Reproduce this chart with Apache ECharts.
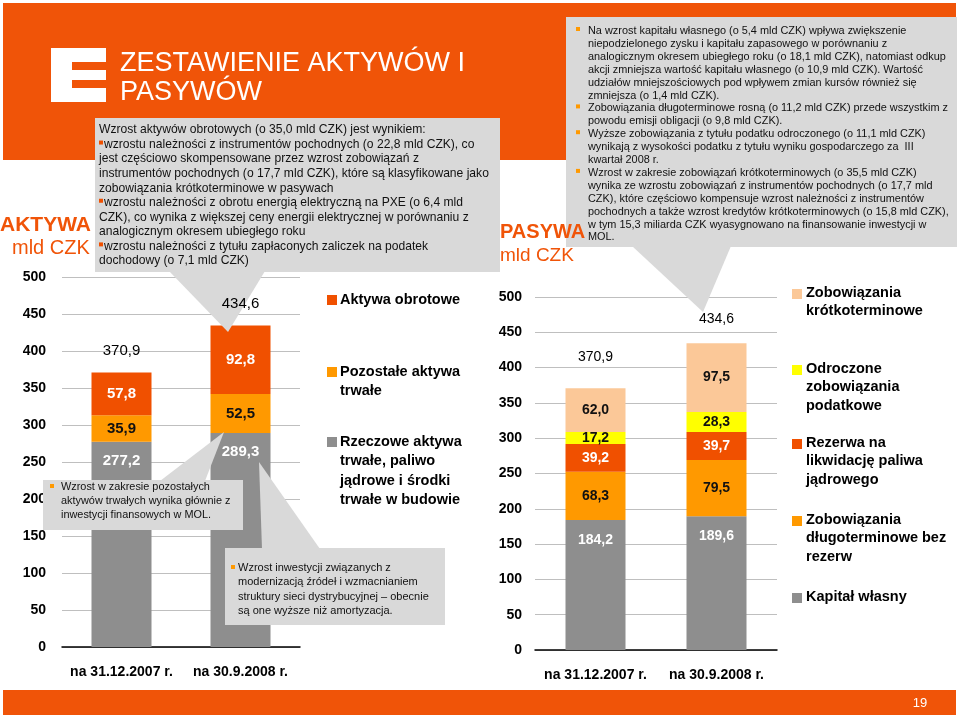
<!DOCTYPE html>
<html>
<head>
<meta charset="utf-8">
<script src="https://cdn.jsdelivr.net/npm/echarts@6/dist/echarts.min.js"></script>
<style>
html,body{margin:0;padding:0;background:#fff;}
#c{width:959px;height:721px;}
</style>
</head>
<body>
<div id="c"></div>
<script>
// ---------- DATA ----------
const categories = ['na 31.12.2007 r.', 'na 30.9.2008 r.'];
const yMin = 0, yMax = 500, yStep = 50;

// Aktywa (bottom -> top)
const assetNames = [
  'Rzeczowe aktywa\ntrwałe, paliwo\njądrowe i środki\ntrwałe w budowie',
  'Pozostałe aktywa\ntrwałe',
  'Aktywa obrotowe'
];
const fixedAssets = [277.2, 289.3];
const otherFixedAssets = [35.9, 52.5];
const currentAssets = [57.8, 92.8];
const assetTotals = [370.9, 434.6];

// Pasywa (bottom -> top)
const liabNames = [
  'Kapitał własny',
  'Zobowiązania\ndługoterminowe bez\nrezerw',
  'Rezerwa na\nlikwidację paliwa\njądrowego',
  'Odroczone\nzobowiązania\npodatkowe',
  'Zobowiązania\nkrótkoterminowe'
];
const equity = [184.2, 189.6];
const longTermLiab = [68.3, 79.5];
const nuclearReserve = [39.2, 39.7];
const deferredTax = [17.2, 28.3];
const shortTermLiab = [62.0, 97.5];
const liabTotals = [370.9, 434.6];

const titleLines = ['ZESTAWIENIE AKTYWÓW I', 'PASYWÓW'];
const boxLeftLines = [
  [0, 'Wzrost aktywów obrotowych (o 35,0 mld CZK) jest wynikiem:'],
  [1, 'wzrostu należności z instrumentów pochodnych (o 22,8 mld CZK), co'],
  [0, 'jest częściowo skompensowane przez wzrost zobowiązań z'],
  [0, 'instrumentów pochodnych (o 17,7 mld CZK), które są klasyfikowane jako'],
  [0, 'zobowiązania krótkoterminowe w pasywach'],
  [1, 'wzrostu należności z obrotu energią elektryczną na PXE (o 6,4 mld'],
  [0, 'CZK), co wynika z większej ceny energii elektrycznej w porównaniu z'],
  [0, 'analogicznym okresem ubiegłego roku'],
  [1, 'wzrostu należności z tytułu zapłaconych zaliczek na podatek'],
  [0, 'dochodowy (o 7,1 mld CZK)']
];
const boxRightLines = [
  [1, 'Na wzrost kapitału własnego (o 5,4 mld CZK) wpływa zwiększenie'],
  [0, 'niepodzielonego zysku i kapitału zapasowego w porównaniu z'],
  [0, 'analogicznym okresem ubiegłego roku (o 18,1 mld CZK), natomiast odkup'],
  [0, 'akcji zmniejsza wartość kapitału własnego (o 10,9 mld CZK). Wartość'],
  [0, 'udziałów mniejszościowych pod wpływem zmian kursów również się'],
  [0, 'zmniejsza (o 1,4 mld CZK).'],
  [1, 'Zobowiązania długoterminowe rosną (o 11,2 mld CZK) przede wszystkim z'],
  [0, 'powodu emisji obligacji (o 9,8 mld CZK).'],
  [1, 'Wyższe zobowiązania z tytułu podatku odroczonego (o 11,1 mld CZK)'],
  [0, 'wynikają z wysokości podatku z tytułu wyniku gospodarczego za  III'],
  [0, 'kwartał 2008 r.'],
  [1, 'Wzrost w zakresie zobowiązań krótkoterminowych (o 35,5 mld CZK)'],
  [0, 'wynika ze wzrostu zobowiązań z instrumentów pochodnych (o 17,7 mld'],
  [0, 'CZK), które częściowo kompensuje wzrost należności z instrumentów'],
  [0, 'pochodnych a także wzrost kredytów krótkoterminowych (o 15,8 mld CZK),'],
  [0, 'w tym 15,3 miliarda CZK wyasygnowano na finansowanie inwestycji w'],
  [0, 'MOL.']
];
const noteFixedLines = [
  'Wzrost w zakresie pozostałych',
  'aktywów trwałych wynika głównie z',
  'inwestycji finansowych w MOL.'
];
const noteInvestLines = [
  'Wzrost inwestycji związanych z',
  'modernizacją źródeł i wzmacnianiem',
  'struktury sieci dystrybucyjnej – obecnie',
  'są one wyższe niż amortyzacja.'
];
const pageNumber = '19';

// ---------- STYLE ----------
const FF = '"Liberation Sans", Arial, Helvetica, sans-serif';
const ORANGE = '#F05408';
const C_RED = '#F05000', C_AMBER = '#FF9900', C_GRAY = '#8E8E8E', C_YEL = '#FFFF00', C_PEACH = '#FBC898';
const BOX = '#D9D9D9';
const assetColors = [C_GRAY, C_AMBER, C_RED];
const assetLabelColors = ['#fff', '#111', '#fff'];
const liabColors = [C_GRAY, C_AMBER, C_RED, C_YEL, C_PEACH];
const liabLabelColors = ['#fff', '#111', '#fff', '#111', '#111'];

const fmt = v => Number(v).toFixed(1).replace('.', ',');

const chart = echarts.init(document.getElementById('c'));

function txt(str, x, y, font, fill, z, align) {
  return { type: 'text', x: x, y: y, z: z || 20, silent: true,
    style: { text: str, font: font, fill: fill || '#000', align: align || 'left', verticalAlign: 'middle' } };
}
function rect(x, y, w, h, fill, z) {
  return { type: 'rect', z: z || 10, silent: true, shape: { x: x, y: y, width: w, height: h }, style: { fill: fill } };
}
function poly(points, fill, z) {
  return { type: 'polygon', z: z || 10, silent: true, shape: { points: points }, style: { fill: fill } };
}

const g = [];
// header band and footer strip
g.push(rect(3, 3, 953, 157, ORANGE, 1));
g.push(rect(3, 690, 953, 25, ORANGE, 1));
g.push(txt(pageNumber, 920, 703, '13px ' + FF, '#fff', 5, 'center'));
// logo
g.push(rect(51, 48, 55, 54, '#fff', 2));
g.push(rect(72, 62, 34, 8, ORANGE, 3));
g.push(rect(72, 80, 34, 8, ORANGE, 3));
// title
g.push(txt(titleLines[0], 120, 64, '27px ' + FF, '#fff', 5));
g.push(txt(titleLines[1], 120, 93, '27px ' + FF, '#fff', 5));
// section headings
g.push(txt('AKTYWA', 0, 225, 'bold 21px ' + FF, ORANGE, 40));
g.push(txt('mld CZK', 12, 248, '20px ' + FF, ORANGE, 40));
g.push(txt('PASYWA', 500, 232, 'bold 20px ' + FF, ORANGE, 40));
g.push(txt('mld CZK', 500, 256, '19px ' + FF, ORANGE, 40));

// top-left box with pointer
g.push(rect(95, 118, 405, 154, BOX, 30));
g.push(poly([[169, 271], [265, 271], [228, 332]], BOX, 30));
boxLeftLines.forEach(function (l, i) {
  const y = 130 + i * 14.55;
  if (l[0]) {
    g.push(rect(99, y - 4, 4, 4, C_RED, 31));
    g.push(txt(l[1], 104, y, '12.1px ' + FF, '#111', 31));
  } else {
    g.push(txt(l[1], 99, y, '12.1px ' + FF, '#111', 31));
  }
});

// top-right box with pointer
g.push(rect(566, 17, 391, 230, BOX, 30));
g.push(poly([[632, 246], [731, 246], [703, 312]], BOX, 30));
boxRightLines.forEach(function (l, i) {
  const y = 31 + i * 12.9;
  if (l[0]) g.push(rect(576, y - 4, 4, 4, C_AMBER, 31));
  g.push(txt(l[1], 588, y, '10.9px ' + FF, '#111', 31));
});

// lower-left note
g.push(rect(43, 480, 200, 50, BOX, 30));
g.push(poly([[160, 481], [205, 481], [224, 432]], BOX, 30));
g.push(rect(50, 484, 4, 4, C_AMBER, 31));
noteFixedLines.forEach(function (s, i) {
  g.push(txt(s, 61, 487 + i * 14.2, '10.9px ' + FF, '#111', 31));
});

// lower-right note
g.push(rect(225, 548, 220, 77, BOX, 30));
g.push(poly([[259, 462], [262, 549], [320, 549]], BOX, 30));
g.push(rect(231, 565, 4, 4, C_AMBER, 31));
noteInvestLines.forEach(function (s, i) {
  g.push(txt(s, 238, 568 + i * 14.4, '11px ' + FF, '#111', 31));
});

// legends (built from series names and colors)
const leftLegendTop = [300, 372, 442];
[2, 1, 0].forEach(function (si, k) {
  const y0 = leftLegendTop[k];
  g.push(rect(327, y0 - 5, 10, 10, assetColors[si], 5));
  assetNames[si].split('\n').forEach(function (s, j) {
    g.push(txt(s, 340, y0 + j * 19.3, 'bold 14.5px ' + FF, '#000', 5));
  });
});
const rightLegendTop = [293, 369, 443, 520, 597];
[4, 3, 2, 1, 0].forEach(function (si, k) {
  const y0 = rightLegendTop[k];
  g.push(rect(792, y0 - 4, 10, 10, liabColors[si], 5));
  liabNames[si].split('\n').forEach(function (s, j) {
    g.push(txt(s, 806, y0 + j * 18.3, 'bold 14.5px ' + FF, '#000', 5));
  });
});

// ---------- AXES ----------
function xAx(gi) {
  return { type: 'category', gridIndex: gi, data: categories,
    axisTick: { show: false },
    axisLine: { lineStyle: { color: '#000', width: 1.5 } },
    axisLabel: { interval: 0, fontFamily: FF, fontWeight: 'bold', fontSize: 14, color: '#000', margin: 18 } };
}
function yAx(gi, margin) {
  return { type: 'value', gridIndex: gi, min: yMin, max: yMax, interval: yStep,
    axisLine: { show: false }, axisTick: { show: false },
    axisLabel: { fontFamily: FF, fontWeight: 'bold', fontSize: 14, color: '#000', margin: margin },
    splitLine: { lineStyle: { color: '#BFBFBF', width: 1 } } };
}

function barSeries(name, data, gi, stack, color, labelColor, fontSize, isBase, baseDist) {
  return {
    type: 'bar', name: name, xAxisIndex: gi, yAxisIndex: gi, stack: stack,
    data: data, barWidth: 60, z: 2,
    itemStyle: { color: color },
    label: {
      show: true, position: isBase ? 'insideTop' : 'inside', distance: isBase ? baseDist : 5,
      formatter: function (p) { return fmt(p.value); },
      color: labelColor, fontFamily: FF, fontWeight: 'bold', fontSize: fontSize
    }
  };
}

const assetSeriesData = [fixedAssets, otherFixedAssets, currentAssets];
const liabSeriesData = [equity, longTermLiab, nuclearReserve, deferredTax, shortTermLiab];

const series = [];
assetSeriesData.forEach(function (d, i) {
  series.push(barSeries(assetNames[i], d, 0, 'a', assetColors[i], assetLabelColors[i], 15, i === 0, 11));
});
liabSeriesData.forEach(function (d, i) {
  series.push(barSeries(liabNames[i], d, 1, 'p', liabColors[i], liabLabelColors[i], 14, i === 0, 13));
});
// totals above the stacks (custom series positioned through the axes)
const assetTotalDist = [14, 14];
const liabTotalDist = [24, 17];
function totalSeries(totals, gi, dists, fs) {
  return {
    type: 'custom', xAxisIndex: gi, yAxisIndex: gi, z: 50, silent: true,
    data: totals.map(function (v, i) { return [i, v]; }),
    encode: { x: 0, y: 1 },
    renderItem: function (params, api) {
      const p = api.coord([api.value(0), api.value(1)]);
      return { type: 'text', x: p[0], y: p[1] - dists[params.dataIndex], z2: 100,
        style: { text: fmt(api.value(1)), fill: '#000',
          font: fs + 'px ' + FF, align: 'center', verticalAlign: 'bottom' } };
    }
  };
}
series.push(totalSeries(assetTotals, 0, assetTotalDist, 15));
series.push(totalSeries(liabTotals, 1, liabTotalDist, 14));

chart.setOption({
  animation: false,
  backgroundColor: '#fff',
  grid: [
    { left: 62, right: 659, top: 277, bottom: 74 },
    { left: 535, right: 182, top: 297, bottom: 71 }
  ],
  xAxis: [xAx(0), xAx(1)],
  yAxis: [yAx(0, 16), yAx(1, 13)],
  series: series,
  graphic: { elements: g }
});
</script>
</body>
</html>
